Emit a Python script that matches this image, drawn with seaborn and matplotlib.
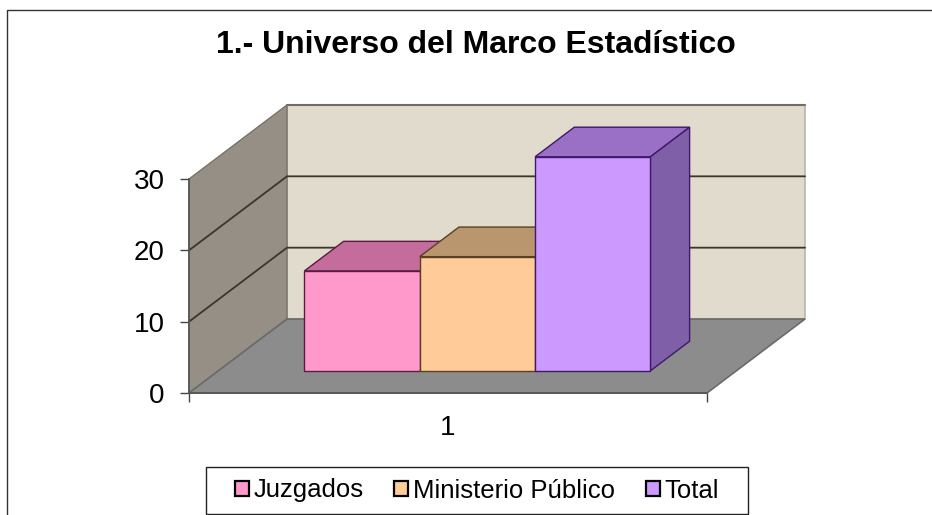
import matplotlib
matplotlib.use("Agg")
import matplotlib.pyplot as plt
import pandas as pd
import seaborn as sns
from matplotlib.lines import Line2D
from matplotlib.patches import Polygon, Rectangle

series = ["Juzgados", "Ministerio Público", "Total"]
values = [14, 16, 30]
category = ["1", "1", "1"]
y_ticks = [0, 10, 20, 30]

front_colors = ["#FF99CC", "#FFCC99", "#CC99FF"]
top_colors = ["#C46C9C", "#B9966E", "#9A70C6"]
side_colors = ["#A0608A", "#A88860", "#7F5FA8"]
edge_colors = ["#5A1C40", "#5A4020", "#40186A"]

W, H = 932, 515

sns.set_theme(style="white")
plt.rcParams["font.family"] = ["Liberation Sans", "DejaVu Sans"]

df = pd.DataFrame({"categoria": category, "serie": series, "valor": values})

fig = plt.figure(figsize=(W / 100, H / 100), dpi=100, facecolor="white")
ax = fig.add_axes([189 / W, (H - 393) / H, 518 / W, 214 / H])
ax.patch.set_visible(False)

sns.barplot(
    data=df, x="categoria", y="valor", hue="serie", hue_order=series,
    palette=front_colors, saturation=1, width=0.668, gap=0,
    linewidth=1, ax=ax, zorder=6,
)
ax.set_xlim(-0.5, 0.5)
ax.set_ylim(0, 30)

# depth of the fake 3d box, in data units
DX = 98 / 518
DY = 74 / (214 / 30)
BAR_FRONT = 0.3
BAR_BACK = 0.7


def face(points, color, zorder, edge="none", lw=0):
    ax.add_patch(Polygon(points, closed=True, facecolor=color, edgecolor=edge,
                         linewidth=lw, clip_on=False, zorder=zorder))


x0, x1 = ax.get_xlim()
top = y_ticks[-1]

# walls and floor
face([(x0 + DX, DY), (x1 + DX, DY), (x1 + DX, top + DY), (x0 + DX, top + DY)],
     "#E1DBCE", 1, "#B8B5AA", 1.2)
ax.add_line(Line2D([x0 + DX, x1 + DX], [top + DY, top + DY], color="#6F6C60",
                   lw=1.5, clip_on=False, zorder=1.5))
face([(x0, 0), (x0 + DX, DY), (x0 + DX, top + DY), (x0, top)],
     "#968F85", 1.6, "#77736A", 1)
face([(x0, 0), (x1, 0), (x1 + DX, DY), (x0 + DX, DY)],
     "#8C8C8C", 2, "#6A6A6A", 1.2)

# gridlines run along the side wall and across the back wall
for tick in y_ticks[1:-1]:
    ax.add_line(Line2D([x0, x0 + DX, x1 + DX], [tick, tick + DY, tick + DY],
                       color="#3A3628", lw=1.3, clip_on=False, zorder=3))

# move the seaborn bars back on the floor and give them depth
for i, container in enumerate(ax.containers):
    bar = container[0]
    bar.set_x(bar.get_x() + BAR_FRONT * DX)
    bar.set_y(BAR_FRONT * DY)
    bar.set_edgecolor(edge_colors[i])
    bar.set_clip_on(False)
    left, right = bar.get_x(), bar.get_x() + bar.get_width()
    low, high = bar.get_y(), bar.get_y() + bar.get_height()
    ox, oy = (BAR_BACK - BAR_FRONT) * DX, (BAR_BACK - BAR_FRONT) * DY
    face([(left, high), (right, high), (right + ox, high + oy), (left + ox, high + oy)],
         top_colors[i], 4 + i * 0.1, edge_colors[i], 1)
    face([(right, low), (right + ox, low + oy), (right + ox, high + oy), (right, high)],
         side_colors[i], 4 + i * 0.1, edge_colors[i], 1)

sns.despine(ax=ax, top=True, right=True)
for side in ["left", "bottom"]:
    ax.spines[side].set_color("#555555")
    ax.spines[side].set_zorder(7)

ax.set_xlabel("")
ax.set_ylabel("")
ax.set_yticks(y_ticks)
ax.tick_params(axis="y", left=True, length=6.5, width=1, color="#444444",
               labelsize=20, pad=11, labelcolor="black")
ax.set_xticks([x0, x1])
ax.set_xticklabels([])
ax.set_xticks([0], labels=[category[0]], minor=True)
ax.tick_params(axis="x", which="major", bottom=True, length=6.5, width=1, color="#444444")
ax.tick_params(axis="x", which="minor", bottom=False, labelsize=20, pad=12, labelcolor="black")

# legend frame is drawn apart, its padding differs across and down
fig.add_artist(Rectangle((205.5 / W, (H - 514) / H), 542 / W, 47 / H, facecolor="white",
                         edgecolor="#222222", linewidth=1, transform=fig.transFigure,
                         zorder=-1))
handles, labels = ax.get_legend_handles_labels()
leg = ax.legend(
    handles, labels, loc="center", ncol=3,
    bbox_to_anchor=(477 / W, (H - 490.5) / H), bbox_transform=fig.transFigure,
    fontsize=18.5, frameon=False, labelcolor="black",
    handlelength=0.55, handleheight=0.55, handletextpad=0.2, columnspacing=1.17,
    borderpad=0, borderaxespad=0,
)
leg.set_zorder(10)
for patch in leg.get_patches():
    patch.set_edgecolor("black")
    patch.set_linewidth(1.6)

fig.text(476 / W, (H - 45) / H, "1.- Universo del Marco Estadístico",
         ha="center", va="center", fontsize=23, fontweight="bold", color="black")

# chart area border, cut off on the right and at the bottom in the source
fig.add_artist(Line2D([6.5 / W, 6.5 / W, 1], [0, (H - 9.5) / H, (H - 9.5) / H],
                      color="#333333", lw=1, transform=fig.transFigure))

fig.savefig("out.png", dpi=100)
